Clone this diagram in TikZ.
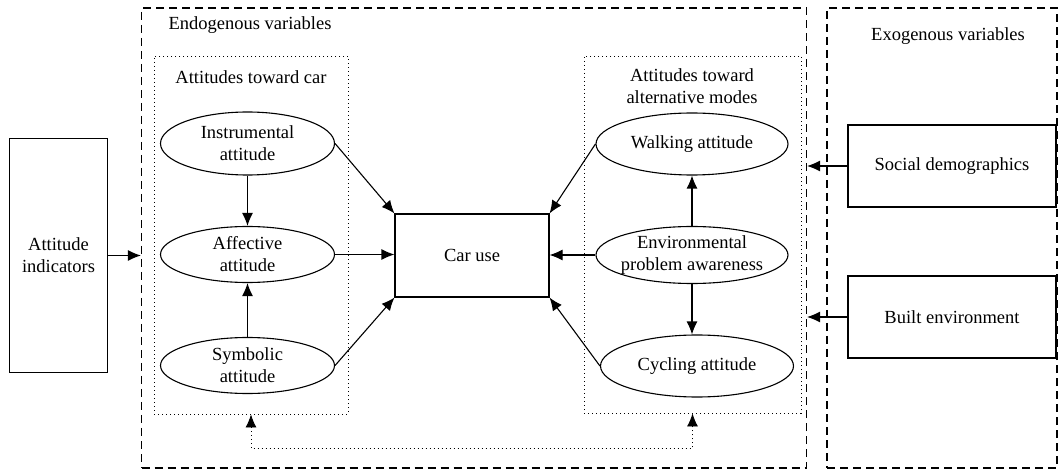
\documentclass[tikz,border=0pt]{standalone}
\usepackage{fontspec}
\setmainfont{Liberation Serif}
\usetikzlibrary{arrows.meta,positioning,shapes.geometric}

\begin{document}
\begin{tikzpicture}[x=1pt, y=-1pt, node distance=111pt, line width=1.1pt,
    >={Latex[length=13pt,width=11pt]},
    font=\fontsize{18.5}{22}\selectfont,
    att/.style={draw, ellipse, inner sep=0pt, align=center, minimum width=174pt, minimum height=56pt},
    var/.style={draw, rectangle, inner sep=0pt, align=center},
    grp/.style={draw, rectangle, dash pattern=on 1pt off 3pt, line width=0.9pt, inner sep=0pt},
    blk/.style={draw, rectangle, dash pattern=on 8pt off 5pt, inner sep=0pt}]
          \useasboundingbox (0,0) rectangle (1060,470);
          \node[blk, minimum width=665pt, minimum height=460pt] (endo) at (474,238) {};
          \node[blk, minimum width=230pt, minimum height=460pt] (exo) at (942,238) {};
          \node (endot) at (250,25) {Endogenous variables};
          \node (exot) at (948,36) {Exogenous variables};
          \node[grp, minimum width=194pt, minimum height=358pt] (carbox) at (251,235) {};
          \node[grp, minimum width=217pt, minimum height=357pt] (altbox) at (692.5,234.5) {};
          \node (cart) at (251,77) {Attitudes toward car};
          \node[align=center] (altt) at (692,86) {Attitudes toward\\alternative modes};
          \node[att, minimum height=63pt] (instr) at (247.5,143.5) {Instrumental\\attitude};
          \node[att] (affect) [below of=instr] {Affective\\attitude};
          \node[att] (symb) [below of=affect] {Symbolic\\attitude};
          \node[att, minimum width=192pt, minimum height=62pt] (walk) at (692,144) {Walking attitude};
          \node[att, minimum width=192pt, minimum height=57pt, inner xsep=-6pt] (env) [below of=walk] {Environmental\\problem awareness};
          \node[att, minimum width=193pt, minimum height=62pt] (cycl) [below of=env, xshift=5pt] {Cycling attitude};
          \node[var, minimum width=154pt, minimum height=83pt] (car) at (472,255.5) {Car use};
          \node[var, minimum width=98pt, minimum height=234pt] (ind) at (58.5,255.5) {Attitude\\indicators};
          \node[var, minimum width=208pt, minimum height=82pt] (soc) at (952,166) {Social demographics};
          \node[var, minimum width=208pt, minimum height=82pt] (built) at (952,317) {Built environment};
          \path[->]
          (instr) edge (affect)
          (symb) edge (affect)
          (env) edge (walk)
          (env.south) edge (env.south |- cycl.north)
          (instr.east) edge (car.north west)
          (affect.east) edge (affect.east -| car.west)
          (symb.east) edge (car.south west)
          (walk.west) edge (car.north east)
          (env.west) edge (env.west -| car.east)
          (cycl.west) edge (car.south east)
(ind) edge (ind -| endo.west)
(soc) edge (soc -| endo.east)
(built) edge (built -| endo.east);
          \draw[<->, dash pattern=on 1pt off 3pt, line width=0.9pt] (carbox.south) -- ++(0,34) -| (altbox.south);
        \end{tikzpicture}
\end{document}
